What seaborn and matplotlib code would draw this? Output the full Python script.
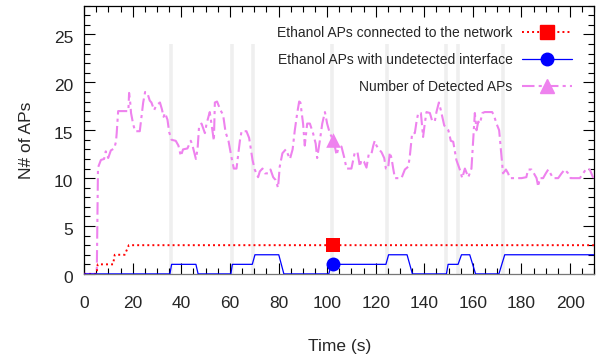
import matplotlib
matplotlib.use("Agg")
import matplotlib.pyplot as plt
from matplotlib.lines import Line2D
from matplotlib.ticker import MultipleLocator
from matplotlib.transforms import ScaledTranslation
import pandas as pd
import seaborn as sns

# Detected APs (pink, dash-dot)
detected_t = [0, 5.2, 5.7, 6.9, 8.2, 8.9, 9.9, 11.0, 12.4, 13.1, 13.4, 14.0, 16.5, 18.2,
              18.5, 19.0, 19.3, 20.2, 21.0, 22.9, 23.6, 24.3, 25.1, 26.0, 27.0, 27.7,
              28.8, 29.7, 31.2, 32.0, 32.7, 33.3, 34.3, 35.0, 36.0, 37.7, 38.8, 39.8,
              40.7, 42.5, 43.9, 44.6, 46.0, 46.7, 47.3, 48.3, 49.7, 50.4, 51.7, 52.8,
              53.4, 53.8, 54.7, 56.1, 57.2, 58.2, 59.4, 60.7, 61.6, 62.7, 64.1, 64.8,
              66.8, 67.9, 69.3, 70.2, 71.6, 72.3, 73.4, 74.4, 75.7, 76.7, 77.8, 78.8,
              79.8, 80.5, 81.6, 83.0, 84.7, 85.8, 86.7, 87.7, 88.5, 89.0, 90.1, 90.8,
              91.8, 92.9, 94.2, 95.3, 95.9, 97.0, 98.0, 99.1, 100.0, 101.1, 102.7, 103.9,
              104.5, 105.9, 107.0, 108.0, 110.0, 111.4, 112.5, 113.5, 114.1, 115.2, 116.2,
              117.2, 118.3, 119.0, 119.6, 120.3, 121.4, 122.4, 123.5, 124.2, 125.1, 125.8,
              126.5, 127.2, 127.9, 130.6, 132.0, 133.4, 134.0, 135.0, 136.1, 136.8, 137.5,
              138.6, 139.5, 140.2, 140.9, 142.3, 143.2, 144.3, 145.0, 146.0, 146.8, 148.2,
              149.9, 150.9, 151.9, 153.2, 154.6, 155.6, 156.7, 158.1, 159.4, 160.1, 160.8,
              161.5, 162.2, 162.9, 163.9, 164.9, 167.9, 168.6, 169.7, 170.8, 171.5, 172.4,
              173.6, 174.5, 175.2, 180.0, 182.0, 182.7, 184.1, 185.1, 186.2, 186.9, 187.5,
              188.9, 190.0, 191.0, 191.9, 193.0, 195.1, 196.5, 197.8, 199.2, 200.2, 204.0,
              205.4, 206.7, 208.1, 209.4, 210]
detected_v = [0, 0, 11.1, 11.9, 12.0, 12.8, 12.1, 12.9, 13.1, 13.8, 14.7, 17.0, 17.0, 17.0,
              18.9, 17.8, 16.8, 15.6, 14.9, 14.9, 16.4, 17.9, 19.0, 18.9, 18.1, 17.9,
              17.1, 17.6, 17.9, 17.2, 16.4, 16.8, 16.1, 14.8, 14.0, 13.9, 13.4, 12.3,
              13.0, 13.1, 13.9, 13.4, 12.0, 13.1, 15.4, 15.7, 14.7, 15.7, 16.9, 15.0,
              13.9, 17.9, 18.0, 17.1, 16.6, 14.8, 13.9, 12.1, 11.0, 11.0, 13.9, 14.9,
              14.9, 14.2, 11.9, 10.9, 10.1, 10.7, 11.0, 10.5, 10.5, 10.9, 10.1, 9.8,
              9.0, 11.2, 12.6, 13.0, 12.0, 13.0, 15.0, 16.8, 18.0, 17.9, 15.7, 13.4,
              15.7, 15.7, 14.7, 13.6, 12.1, 13.9, 15.7, 16.9, 15.7, 14.7, 13.9, 12.4,
              13.0, 13.3, 12.2, 11.0, 11.0, 12.7, 12.7, 11.2, 11.9, 11.7, 11.1,
              12.6, 12.6, 13.4, 13.9, 13.4, 13.0, 12.7, 12.1, 11.0, 11.0, 12.7,
              12.1, 11.0, 10.0, 10.0, 10.9, 11.2, 12.2, 14.7, 14.7, 15.9, 16.8,
              16.8, 14.3, 15.7, 16.9, 16.8, 16.0, 15.9, 16.9, 17.9, 17.1, 15.5,
              15.0, 13.9, 13.8, 11.9, 10.9, 10.0, 11.0, 10.1, 11.0, 13.9, 16.8,
              15.0, 15.9, 15.7, 16.8, 16.9, 16.9, 16.6, 15.7, 15.0, 13.0, 10.5,
              10.9, 10.5, 10.0, 10.0, 10.1, 10.9, 10.9, 10.5, 10.0, 9.1, 10.0,
              10.0, 10.5, 10.9, 10.5, 10.0, 10.0, 10.5, 10.9, 10.5, 10.0, 10.0,
              10.5, 11.0, 10.9, 10.1, 10.1]

# Ethanol APs with undetected interface (blue, solid)
undetected_t = [0, 35.3, 36.0, 46.0, 46.9, 60.4, 61.0, 69.2, 70.3, 80.1, 82.2, 100.7, 101.7,
                124.2, 125.3, 132.9, 135.1, 149.1, 149.8, 153.9, 155.3, 158.7, 161.1,
                170.7, 173.1, 210]
undetected_v = [0, 0, 1, 1, 0, 0, 1, 1, 2, 2, 0, 0, 1,
                1, 2, 2, 0, 0, 1, 1, 2, 2, 0,
                0, 2, 2]

# Ethanol APs connected to the network (red, dotted)
connected_t = [0, 5.1, 5.6, 11.9, 12.6, 16.7, 18.4, 210]
connected_v = [0, 0, 1, 1, 2, 2, 3, 3]

# grey event markers
event_t = [35.8, 60.8, 69.6, 102.0, 124.6, 149.0, 154.0, 172.2]
event_top = 24

marker_t = 102.5
marker_connected = 3
marker_undetected = 1
marker_detected = 14.0

labels = ["Ethanol APs connected to the network",
          "Ethanol APs with undetected interface",
          "Number of Detected APs"]

sns.set_style("white")
plt.rcParams["font.family"] = ["Liberation Sans", "DejaVu Sans"]

fig = plt.figure(figsize=(6.01, 3.59), dpi=100)
ax = fig.add_axes([0.140, 0.237, 0.849, 0.747])

ax.vlines(event_t, 0, event_top, color="#efefef", lw=2.6, zorder=0)

df_det = pd.DataFrame({"t": detected_t, "v": detected_v})
df_und = pd.DataFrame({"t": undetected_t, "v": undetected_v})
df_con = pd.DataFrame({"t": connected_t, "v": connected_v})

pink = "#ee82ee"
pink_ls = (0, (6, 2, 1.5, 2))
red_ls = (0, (1, 1.6))
sns.lineplot(data=df_det, x="t", y="v", ax=ax, color=pink, lw=1.5,
             linestyle=pink_ls, estimator=None, sort=False, zorder=3)
sns.lineplot(data=df_con, x="t", y="v", ax=ax, color="red", lw=1.4,
             linestyle=red_ls, estimator=None, sort=False, zorder=4)
sns.lineplot(data=df_und, x="t", y="v", ax=ax, color="blue", lw=0.9,
             estimator=None, sort=False, zorder=5)

sns.scatterplot(x=[marker_t], y=[marker_connected], ax=ax, marker="s", s=110,
                color="red", linewidth=0, zorder=6)
sns.scatterplot(x=[marker_t], y=[marker_undetected], ax=ax, marker="o", s=100,
                color="blue", linewidth=0, zorder=6)
sns.scatterplot(x=[marker_t], y=[marker_detected], ax=ax, marker="^", s=110,
                color=pink, linewidth=0, zorder=6)

ax.set_xlim(0, 210)
ax.set_ylim(0, 28)
ax.xaxis.set_major_locator(MultipleLocator(20))
ax.xaxis.set_minor_locator(MultipleLocator(5))
ax.yaxis.set_major_locator(MultipleLocator(5))
ax.yaxis.set_minor_locator(MultipleLocator(1))
ax.tick_params(which="both", direction="in", top=True, right=True, bottom=True, left=True,
               color="black", width=0.8)
ax.tick_params(which="major", length=8)
ax.tick_params(which="minor", length=4.3)
ax.tick_params(axis="x", which="major", labelsize=12.5, pad=16)
ax.tick_params(axis="y", which="major", labelsize=12.5, pad=8)
for sp in ax.spines.values():
    sp.set_color("black")
    sp.set_linewidth(0.9)
ax.spines["bottom"].set_color("#777777")

# gnuplot puts the y labels a little below their ticks
shift = ScaledTranslation(0, -3 / 100, fig.dpi_scale_trans)
for lab in ax.get_yticklabels():
    lab.set_transform(lab.get_transform() + shift)

ax.set_xlabel("Time (s)", fontsize=12.5, labelpad=20)
ax.set_ylabel("N# of APs", fontsize=12.5, labelpad=14)

handles = [
    Line2D([], [], color="red", lw=1.4, linestyle=red_ls, marker="s", markersize=10),
    Line2D([], [], color="blue", lw=0.9, marker="o", markersize=9),
    Line2D([], [], color=pink, lw=1.5, linestyle=pink_ls, marker="^", markersize=10),
]
ax.legend(handles, labels, loc="upper right", bbox_to_anchor=(0.957, 0.925),
          frameon=False, markerfirst=False, numpoints=1, fontsize=10,
          handlelength=3.6, handletextpad=0.7, labelspacing=0.95, borderpad=0,
          borderaxespad=0)

fig.savefig("out.png", dpi=100)
